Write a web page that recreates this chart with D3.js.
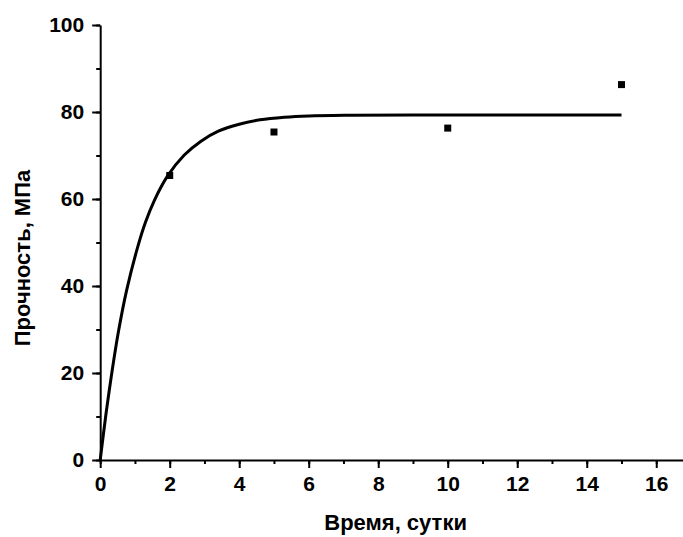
<!DOCTYPE html>
<html><head><meta charset="utf-8">
<script src="https://cdn.jsdelivr.net/npm/d3@7"></script>
<style>body{margin:0;background:#fff}svg{display:block}text{font-family:"Liberation Sans",Arial,sans-serif;font-weight:bold;fill:#000}</style>
</head><body>
<script>
// measured points
const days = [2, 5, 10, 15];
const strength = [65.4, 75.4, 76.3, 86.3];
// fitted curve
const fitX = [0, 0.17, 0.33, 0.52, 0.76, 1.08, 1.3, 1.56, 1.94, 2.42, 2.9, 3.4, 4.0, 4.6, 5.3, 6.0, 7.2, 9, 12, 15];
const fitY = [0, 10.8, 19.8, 29.3, 39, 49.0, 54.6, 59.7, 65.3, 70.1, 73.3, 75.6, 77.2, 78.2, 78.8, 79.1, 79.25, 79.3, 79.3, 79.3];
const xTicks = [0, 2, 4, 6, 8, 10, 12, 14, 16];
const yTicks = [0, 20, 40, 60, 80, 100];
const xTitle = "Время, сутки";
const yTitle = "Прочность, МПа";

const W = 683, H = 537;
const svg = d3.select("body").append("svg").attr("width", W).attr("height", H);
const x = d3.scaleLinear().domain([0, 17]).range([100.2, 691]);
const y = d3.scaleLinear().domain([0, 100]).range([460, 25]);

// minor ticks
const gx = svg.append("g").attr("transform", `translate(0,${y(0)})`);
gx.call(d3.axisBottom(x).tickValues(d3.range(0, 18, 1)).tickSize(4).tickFormat(""));
gx.call(g => g.select(".domain").remove());
const gx2 = svg.append("g").attr("transform", `translate(0,${y(0)})`)
  .call(d3.axisBottom(x).tickValues(xTicks).tickSize(8).tickSizeOuter(0).tickPadding(5).tickFormat(d3.format("d")));
const gy = svg.append("g").attr("transform", `translate(${x(0)},0)`);
gy.call(d3.axisLeft(y).tickValues(d3.range(0, 101, 10)).tickSize(4).tickFormat(""));
gy.call(g => g.select(".domain").remove());
const gy2 = svg.append("g").attr("transform", `translate(${x(0)},0)`)
  .call(d3.axisLeft(y).tickValues(yTicks).tickSize(8).tickSizeOuter(0).tickPadding(8).tickFormat(d3.format("d")));
svg.selectAll(".domain, .tick line").attr("stroke", "#000").attr("stroke-width", 2);
svg.selectAll(".tick text").attr("font-size", 21).attr("font-family", '"Liberation Sans",Arial,sans-serif').attr("font-weight", "bold").attr("fill", "#000");
gx2.selectAll(".tick text").attr("dy", "0.85em");

// curve
const pts = fitX.map((v, i) => [v, fitY[i]]);
svg.append("path").datum(pts)
  .attr("d", d3.line().x(d => x(d[0])).y(d => y(d[1])).curve(d3.curveCatmullRom.alpha(0.5)))
  .attr("fill", "none").attr("stroke", "#000").attr("stroke-width", 3);

// points
svg.selectAll("rect.pt").data(days).enter().append("rect").attr("class", "pt")
  .attr("x", (d) => x(d) - 3.5).attr("y", (d, i) => y(strength[i]) - 3.5)
  .attr("width", 7).attr("height", 7).attr("fill", "#000");

// titles
svg.append("text").attr("x", x(8.5)).attr("y", 530).attr("text-anchor", "middle").attr("font-size", 22).text(xTitle);
svg.append("text").attr("transform", `translate(29.5,258) rotate(-90)`).attr("text-anchor", "middle").attr("font-size", 22).text(yTitle);
</script>
</body></html>
